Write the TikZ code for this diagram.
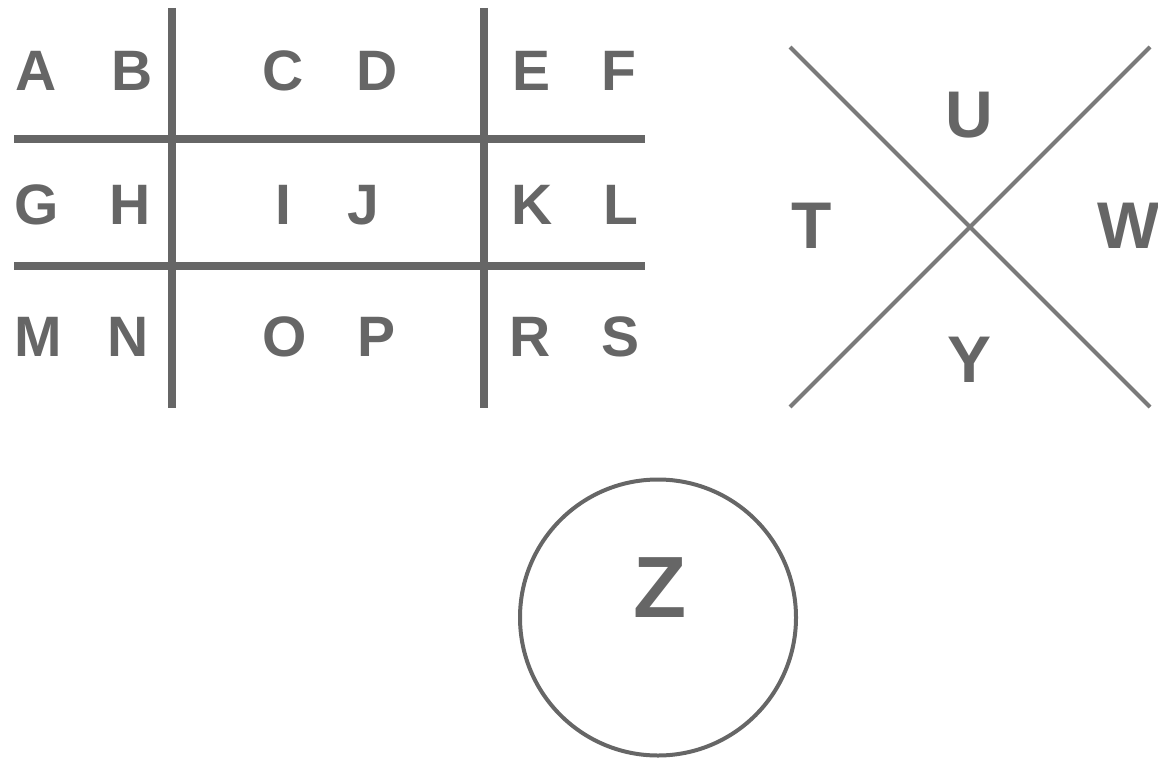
\documentclass[tikz,border=0pt]{standalone}
\usepackage{fontspec}
\setmainfont{Liberation Sans}
\definecolor{gridgray}{HTML}{666666}
\definecolor{xgray}{HTML}{7A7A7A}
\begin{document}
\begin{tikzpicture}[x=1pt,y=-1pt,
  gridline/.style={draw=gridgray,line width=8pt},
  xline/.style={draw=xgray,line width=4pt},
  ringline/.style={draw=gridgray,line width=4pt},
  letter/.style={anchor=base,inner sep=0pt,text=gridgray,font=\fontsize{57}{60}\selectfont\bfseries},
  bigletter/.style={anchor=base,inner sep=0pt,text=gridgray,font=\fontsize{66}{70}\selectfont\bfseries},
  zletter/.style={anchor=base,inner sep=0pt,text=gridgray,font=\fontsize{87}{90}\selectfont\bfseries}]
\useasboundingbox (0,0) rectangle (1158,760);
% grid lines
\coordinate (v1t) at (172,8);   \coordinate (v1b) at (172,408);
\coordinate (v2t) at (484,8);   \coordinate (v2b) at (484,408);
\coordinate (h1l) at (14,139);  \coordinate (h1r) at (645,139);
\coordinate (h2l) at (14,266);  \coordinate (h2r) at (645,266);
\draw[gridline] (v1t) -- (v1b);
\draw[gridline] (v2t) -- (v2b);
\draw[gridline] (h1l) -- (h1r);
\draw[gridline] (h2l) -- (h2r);
% grid letters
\node[letter] (A) at (36.5,90) {A};
\node[letter] (B) at (132.5,90) {B};
\node[letter] (C) at (283,90) {C};
\node[letter] (D) at (377,90) {D};
\node[letter] (E) at (531.5,90) {E};
\node[letter] (F) at (619,90) {F};
\node[letter] (G) at (36.5,224) {G};
\node[letter] (H) at (130,224) {H};
\node[letter] (I) at (283.5,224) {I};
\node[letter] (J) at (363,224) {J};
\node[letter] (K) at (532,224) {K};
\node[letter] (L) at (621,224) {L};
\node[letter] (M) at (38.5,356) {M};
\node[letter] (N) at (128,356) {N};
\node[letter] (O) at (284.5,356) {O};
\node[letter] (P) at (376.5,356) {P};
\node[letter] (R) at (530.5,356) {R};
\node[letter] (S) at (620,356) {S};
% X
\coordinate (xtl) at (790,47);  \coordinate (xbr) at (1150,407);
\coordinate (xtr) at (1150,47); \coordinate (xbl) at (790,407);
\draw[xline] (xtl) -- (xbr);
\draw[xline] (xtr) -- (xbl);
\node[bigletter] (U) at (969,137) {U};
\node[bigletter] (T) at (812,248) {T};
\node[bigletter] (W) at (1129,248) {W};
\node[bigletter] (Y) at (969,382) {Y};
% circle
\node[ringline,circle,minimum size=276pt,inner sep=0pt] (ring) at (658,617.5) {};
\node[zletter] (Z) at (660,617) {Z};
\end{tikzpicture}
\end{document}
